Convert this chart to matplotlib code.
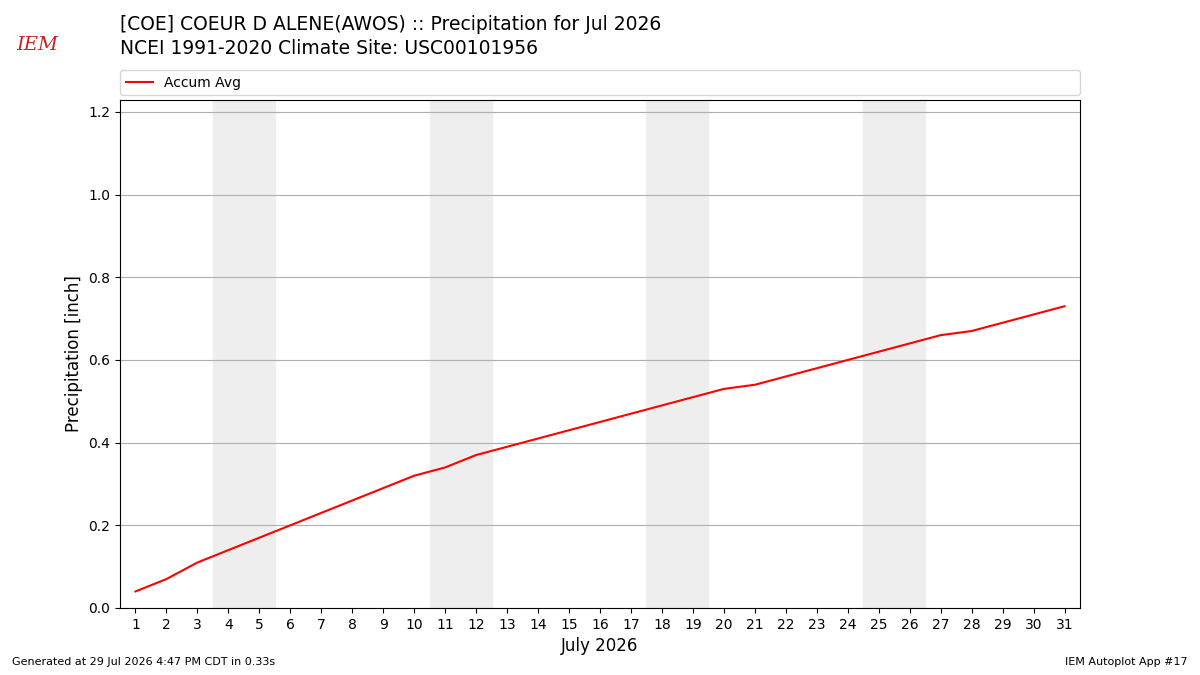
import numpy as np
import matplotlib
matplotlib.use("Agg")
import matplotlib.pyplot as plt

# daily accumulated climatology (inch), July days 1..31
days = list(range(1, 32))
accum_avg = [0.04, 0.07, 0.11, 0.14, 0.17, 0.20, 0.23, 0.26, 0.29, 0.32,
             0.34, 0.37, 0.39, 0.41, 0.43, 0.45, 0.47, 0.49, 0.51, 0.53,
             0.54, 0.56, 0.58, 0.60, 0.62, 0.64, 0.66, 0.67, 0.69, 0.71,
             0.73]
weekends = [(4, 5), (11, 12), (18, 19), (25, 26)]

fig = plt.figure(figsize=(12, 6.75), dpi=100)
ax = fig.add_axes([0.1, 0.0993, 0.8, 0.7526])

for start, end in weekends:
    ax.axvspan(start - 0.5, end + 0.5, color="#eeeeee", zorder=0)

ax.plot(days, accum_avg, color="r", lw=1.5, label="Accum Avg", zorder=3)

ax.set_xlim(0.5, 31.5)
ax.set_ylim(0, 1.229)
ax.set_xticks(days)
ax.set_yticks(np.arange(0, 1.21, 0.2))
ax.grid(True, axis="y")
ax.set_xlabel("July 2026", fontsize=12)
ax.set_ylabel("Precipitation [inch]", fontsize=12)

ax.legend(loc="lower left", bbox_to_anchor=(0.1, 0.859, 0.8, 0.04),
          mode="expand", bbox_transform=fig.transFigure, ncol=1,
          borderaxespad=0)

fig.text(0.1, 0.963, "[COE] COEUR D ALENE(AWOS) :: Precipitation for Jul 2026",
         fontsize=13.5, va="center")
fig.text(0.1, 0.928, "NCEI 1991-2020 Climate Site: USC00101956",
         fontsize=13.5, va="center")

# logo stand-in
fig.text(0.031, 0.933, "IEM", color="#cc2222", fontsize=14, family="serif",
         style="italic", va="center", ha="center")

fig.text(0.01, 0.015, "Generated at 29 Jul 2026 4:47 PM CDT in 0.33s",
         fontsize=8)
fig.text(0.99, 0.015, "IEM Autoplot App #17", fontsize=8, ha="right")

fig.savefig("out.png", dpi=100)
